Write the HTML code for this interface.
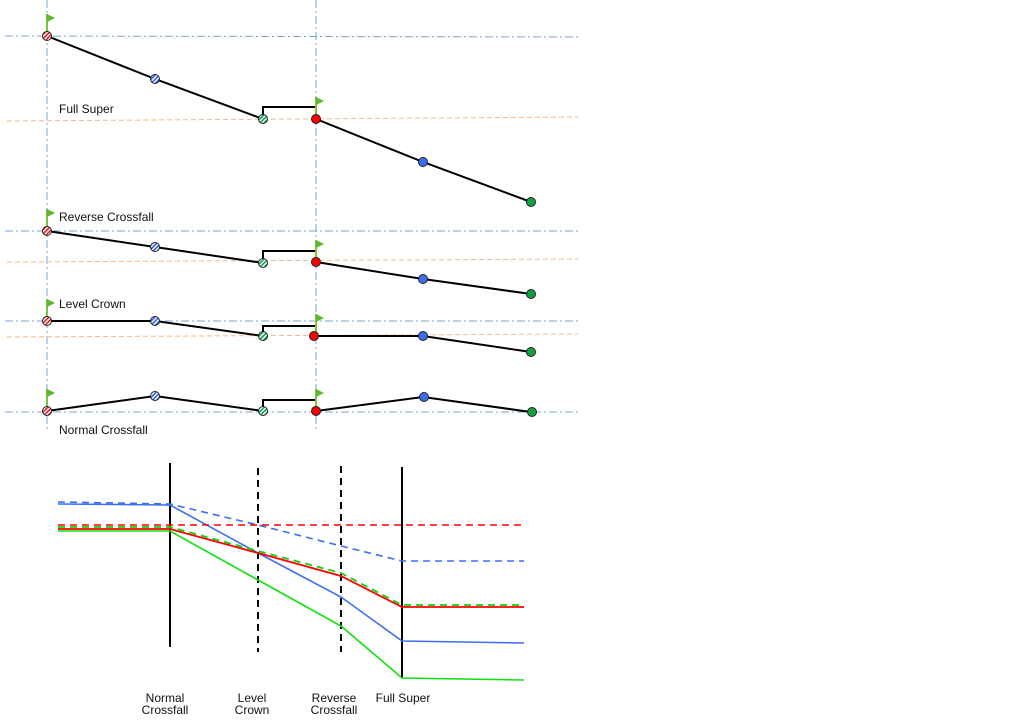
<!DOCTYPE html>
<html><head><meta charset="utf-8"><style>html,body{margin:0;padding:0;background:#fff;}svg{display:block;}text{font-family:"Liberation Sans",sans-serif;font-size:12px;fill:#111;}</style></head><body>
<svg width="1024" height="720" viewBox="0 0 1024 720" xmlns="http://www.w3.org/2000/svg">
<defs>
<pattern id="hr" width="3" height="3" patternUnits="userSpaceOnUse" patternTransform="rotate(45)"><rect width="3" height="3" fill="#fff"/><rect width="1.6" height="3" fill="#e02020"/></pattern>
<pattern id="hb" width="3" height="3" patternUnits="userSpaceOnUse" patternTransform="rotate(45)"><rect width="3" height="3" fill="#fff"/><rect width="1.6" height="3" fill="#3060e0"/></pattern>
<pattern id="hg" width="3" height="3" patternUnits="userSpaceOnUse" patternTransform="rotate(45)"><rect width="3" height="3" fill="#fff"/><rect width="1.6" height="3" fill="#10a050"/></pattern>
<g id="flag"><line x1="0" y1="0" x2="0" y2="-20" stroke="#7cc23c" stroke-width="2"/><polygon points="0,-20 8,-16 0,-12" fill="#5cb82c"/></g>
</defs>
<g stroke="#7aa3d8" stroke-width="1" stroke-dasharray="8,3,2,3" fill="none">
<line x1="47" y1="0" x2="47" y2="430"/><line x1="316" y1="0" x2="316" y2="430"/>
<line x1="5" y1="36" x2="578" y2="37"/><line x1="5" y1="231" x2="578" y2="231"/>
<line x1="5" y1="321" x2="578" y2="321"/><line x1="5" y1="412" x2="578" y2="412"/>
</g>
<g stroke="#f5b88a" stroke-width="1" stroke-dasharray="5,3" fill="none">
<line x1="7" y1="121" x2="578" y2="117"/><line x1="7" y1="262" x2="578" y2="259"/><line x1="7" y1="337" x2="578" y2="334"/>
</g>
<g stroke="#000" stroke-width="2" fill="none">
<polyline points="47,36 155,79 263,119"/><polyline points="316,119 423,162 531,202"/><polyline points="263,119 263,107 316,107 316,119"/>
<polyline points="47,231 155,247 263,263"/><polyline points="316,262 423,279 531,294"/><polyline points="263,263 263,251 316,251 316,262"/>
<polyline points="47,321 155,321 263,336"/><polyline points="316,336 423,336 531,352"/><polyline points="263,336 263,326 316,326 316,336"/>
<polyline points="47,411 155,396 263,411"/><polyline points="316,411 423,397 531,412"/><polyline points="263,411 263,400 316,400 316,411"/>
</g>
<use href="#flag" x="47" y="34"/><use href="#flag" x="316" y="117"/>
<use href="#flag" x="47" y="229"/><use href="#flag" x="316" y="260"/>
<use href="#flag" x="47" y="319"/><use href="#flag" x="316" y="334"/>
<use href="#flag" x="47" y="409"/><use href="#flag" x="316" y="409"/>
<g stroke="#222" stroke-width="1">
<circle cx="47" cy="36" r="4.5" fill="url(#hr)"/><circle cx="155" cy="79" r="4.5" fill="url(#hb)"/><circle cx="263" cy="119" r="4.5" fill="url(#hg)"/>
<circle cx="316" cy="119" r="4.5" fill="#f00"/><circle cx="423" cy="162" r="4.5" fill="#3b6ef0"/><circle cx="531" cy="202" r="4.5" fill="#10a040"/>
<circle cx="47" cy="231" r="4.5" fill="url(#hr)"/><circle cx="155" cy="247" r="4.5" fill="url(#hb)"/><circle cx="263" cy="263" r="4.5" fill="url(#hg)"/>
<circle cx="316" cy="262" r="4.5" fill="#f00"/><circle cx="423" cy="279" r="4.5" fill="#3b6ef0"/><circle cx="531" cy="294" r="4.5" fill="#10a040"/>
<circle cx="47" cy="321" r="4.5" fill="url(#hr)"/><circle cx="155" cy="321" r="4.5" fill="url(#hb)"/><circle cx="263" cy="336" r="4.5" fill="url(#hg)"/>
<circle cx="314" cy="336" r="4.5" fill="#f00"/><circle cx="423" cy="336" r="4.5" fill="#3b6ef0"/><circle cx="531" cy="352" r="4.5" fill="#10a040"/>
<circle cx="47" cy="411" r="4.5" fill="url(#hr)"/><circle cx="155" cy="396" r="4.5" fill="url(#hb)"/><circle cx="263" cy="411" r="4.5" fill="url(#hg)"/>
<circle cx="316" cy="411" r="4.5" fill="#f00"/><circle cx="424" cy="397" r="4.5" fill="#3b6ef0"/><circle cx="532" cy="412" r="4.5" fill="#10a040"/>
</g>
<text x="59" y="113">Full Super</text>
<text x="59" y="221">Reverse Crossfall</text>
<text x="59" y="308">Level Crown</text>
<text x="59" y="434">Normal Crossfall</text>
<g fill="none">
<line x1="170" y1="463" x2="170" y2="647" stroke="#000" stroke-width="2"/>
<line x1="402" y1="467" x2="402" y2="678" stroke="#000" stroke-width="2"/>
<line x1="258" y1="468" x2="258" y2="652" stroke="#000" stroke-width="2" stroke-dasharray="7,5"/>
<line x1="341" y1="466" x2="341" y2="652" stroke="#000" stroke-width="2" stroke-dasharray="7,5"/>
<polyline points="58,502 170,504 258,525 341,546 402,561 524,561" stroke="#3b6ef0" stroke-width="1.6" stroke-dasharray="7,5"/>
<polyline points="58,504 170,505 258,553 341,597 402,641 524,643" stroke="#3b6ef0" stroke-width="1.6"/>
<line x1="58" y1="525" x2="524" y2="525" stroke="#f00" stroke-width="1.6" stroke-dasharray="7,5"/>
<polyline points="58,531 170,531 258,580 341,626 402,678 524,680" stroke="#10e010" stroke-width="1.6"/>
<polyline points="58,527 170,527 258,551 341,573 402,605 524,605" stroke="#10d010" stroke-width="1.8" stroke-dasharray="7,5"/>
<polyline points="58,529 170,529 258,553 341,576 402,607 524,607" stroke="#f00" stroke-width="1.8"/>
</g>
<g text-anchor="middle">
<text x="165" y="702">Normal</text><text x="165" y="714">Crossfall</text>
<text x="252" y="702">Level</text><text x="252" y="714">Crown</text>
<text x="334" y="702">Reverse</text><text x="334" y="714">Crossfall</text>
<text x="403" y="702">Full Super</text>
</g>
</svg>
</body></html>
